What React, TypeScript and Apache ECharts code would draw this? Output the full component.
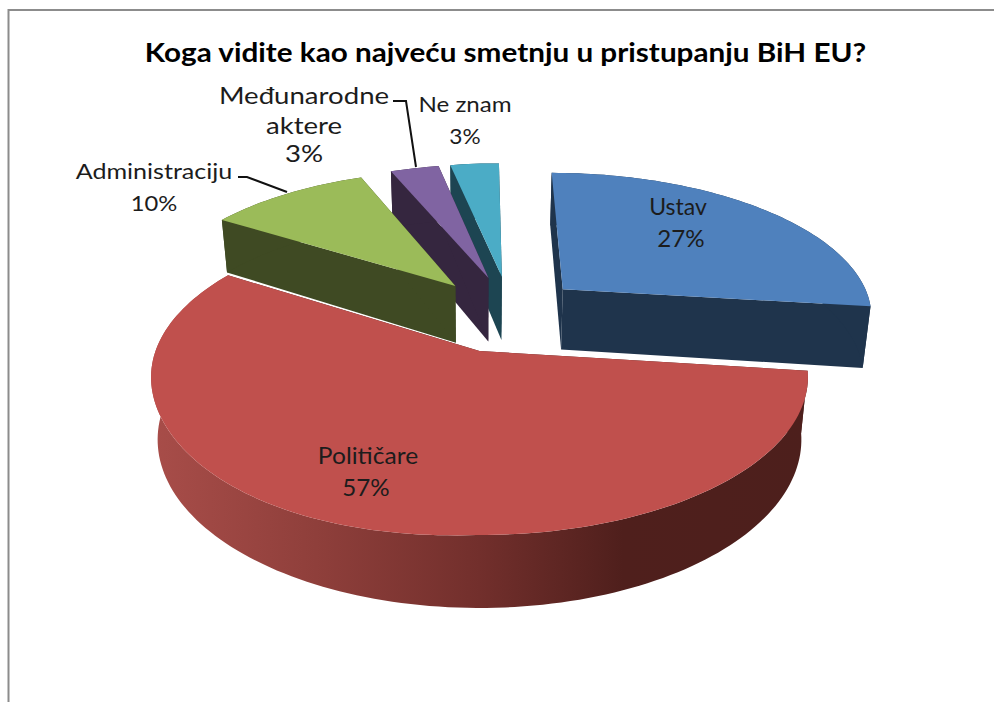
import React, { useEffect, useRef } from "react";
import * as echarts from "echarts";

const titleText = "Koga vidite kao najveću smetnju u pristupanju BiH EU?";
const categories = ["Ustav", "Političare", "Administraciju", "Međunarodne aktere", "Ne znam"];
const values = [27, 57, 10, 3, 3];
const topColors = ["#4f81bd", "#c0504d", "#9bbb59", "#8064a2", "#4bacc6"];
const wallColors = ["#1f344c", "#4d1f1c", "#3f4a23", "#35263f", "#1d4552"];
const drawOrder = [4, 3, 2, 0, 1];
// explosion offset of each slice in the pie's plane (radius units)
const offsetP = [0.275, 0, -0.08, 0.03, 0.075];
const offsetQ = [0.43, 0, 0.455, 0.515, 0.525];
const depthFactor = [1.06, 1, 1, 1.13, 1.13];
const labelLines = [
  { t: "Ustav", x: 678, y: 206, size: 23, sx: 1 },
  { t: "27%", x: 681, y: 238, size: 23, sx: 1.05 },
  { t: "Političare", x: 368, y: 455, size: 23, sx: 1.07 },
  { t: "57%", x: 366, y: 487, size: 23, sx: 1.05 },
  { t: "Administraciju", x: 154, y: 171, size: 22, sx: 1.14 },
  { t: "10%", x: 154, y: 202, size: 22, sx: 1.08 },
  { t: "Međunarodne", x: 304, y: 95, size: 23, sx: 1.2 },
  { t: "aktere", x: 304, y: 125, size: 23, sx: 1.2 },
  { t: "3%", x: 304, y: 153, size: 23, sx: 1.2 },
  { t: "Ne znam", x: 465, y: 104, size: 21, sx: 1.15 },
  { t: "3%", x: 465, y: 136, size: 21, sx: 1.08 },
];
const leaders = [
  [[238, 177], [247, 177], [287, 192]],
  [[393, 101], [406, 101], [416, 167]],
];

const X0 = 479.5, Y0 = 351, R = 324, S = 153.8, K = 0.164, DEPTH = 61, SHRINK = 0.98;
const total = values.reduce((a, b) => a + b, 0);
const starts = values.map((_, i) => values.slice(0, i).reduce((a, b) => a + b, 0));

function top(p: number, q: number): number[] {
  const d = 1 + K * q;
  // the photographed pie's front-left rim sags slightly below a true ellipse
  const sag = p < 0 && q < 0 ? 14 * Math.abs(p) * q * q : 0;
  return [X0 + (R * p) / d, Y0 - (S * q) / d + sag];
}
function bottom(p: number, q: number, f: number): number[] {
  const d = 1 + K * q;
  return [X0 + (SHRINK * R * p) / d, Y0 - (S * q) / d + (DEPTH * f) / d];
}

const redWall = new echarts.graphic.LinearGradient(
  152, 0, 807, 0,
  [
    { offset: 0, color: "#a84d49" },
    { offset: 0.25, color: "#8f3f3b" },
    { offset: 0.5, color: "#722f2c" },
    { offset: 0.72, color: "#4f1f1c" },
    { offset: 1, color: "#4d1f1c" },
  ],
  true
);

function renderItem(params: any, api: any) {
  const i = api.value(1);
  const v = api.value(0);
  const a0 = (starts[i] / total) * Math.PI * 2;
  const a1 = ((starts[i] + v) / total) * Math.PI * 2;
  const p0 = offsetP[i], q0 = offsetQ[i], f = depthFactor[i];
  const arcT: number[][] = [];
  const arcB: number[][] = [];
  const steps = Math.max(8, Math.round((a1 - a0) * 40));
  for (let s = 0; s <= steps; s++) {
    const a = a0 + ((a1 - a0) * s) / steps;
    const p = p0 + Math.sin(a), q = q0 + Math.cos(a);
    arcT.push(top(p, q));
    arcB.push(bottom(p, q, f));
  }
  const apexT = top(p0, q0);
  const apexB = bottom(p0, q0, f);
  const wall = wallColors[i];
  const poly = (points: number[][], fill: any) => ({
    type: "polygon",
    shape: { points },
    style: { fill, stroke: null },
  });
  return {
    type: "group",
    children: [
      poly([apexT, arcT[0], arcB[0], apexB], wall),
      poly([apexT, arcT[steps], arcB[steps], apexB], wall),
      poly([...arcT, ...arcB.slice().reverse()], i === 1 ? redWall : wall),
      poly([apexT, ...arcT], topColors[i]),
    ],
  };
}

export default function App() {
  const ref = useRef<HTMLDivElement>(null);
  useEffect(() => {
    document.body.style.margin = "0";
    const chart = echarts.init(ref.current!, undefined, { renderer: "svg" });
    const font = "Lato";
    const labelGraphics = labelLines.map((l) => ({
      type: "text",
      x: l.x,
      y: l.y,
      scaleX: l.sx,
      z: 10,
      style: {
        text: l.t,
        fill: "#1c1c1c",
        font: `${l.size}px ${font}`,
        textAlign: "center",
        textVerticalAlign: "middle",
      },
    }));
    chart.setOption({
      animation: false,
      backgroundColor: "#ffffff",
      graphic: [
        {
          type: "text",
          x: 505.5,
          y: 52,
          scaleX: 1.12,
          z: 10,
          style: {
            text: titleText,
            fill: "#000000",
            font: `bold 26.5px ${font}`,
            textAlign: "center",
            textVerticalAlign: "middle",
          },
        },
        {
          type: "polyline",
          z: 9,
          shape: { points: [[8.5, 702], [8.5, 10], [994, 10]] },
          style: { fill: null, stroke: "#8c8c8c", lineWidth: 2 },
        },
        ...leaders.map((pts) => ({
          type: "polyline",
          z: 9,
          shape: { points: pts },
          style: { fill: null, stroke: "#111111", lineWidth: 2 },
        })),
        ...labelGraphics,
      ],
      series: [
        {
          type: "custom",
          coordinateSystem: "none",
          renderItem,
          silent: true,
          data: drawOrder.map((i) => ({ name: categories[i], value: [values[i], i] })),
        },
      ],
    });
    return () => chart.dispose();
  }, []);
  return <div ref={ref} style={{ width: 994, height: 702 }} />;
}
